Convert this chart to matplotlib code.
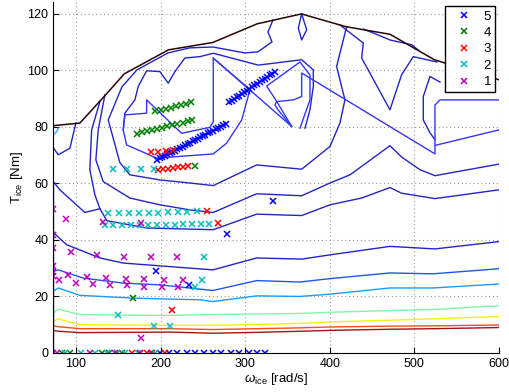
import matplotlib
matplotlib.use("Agg")
import matplotlib.pyplot as plt

plt.rcParams["font.family"] = ["Liberation Sans", "DejaVu Sans"]
plt.rcParams["mathtext.fontset"] = "custom"
plt.rcParams["mathtext.rm"] = "Liberation Sans"
plt.rcParams["mathtext.it"] = "Liberation Sans:italic"

# -- Max torque envelope ------------------------------------------------------
env_w = [73.3, 104.7, 136.1, 157.1, 209.4, 261.8, 314.2, 366.5, 418.9, 471.2, 523.6, 600]
env_t = [80.4, 81.3, 91.6, 98.7, 107.2, 109.8, 116.4, 119.9, 115.4, 112.7, 103.7, 96.6]

# -- Lower contour levels (roughly horizontal) --------------------------------
grid_w = [73.3, 79.1, 104.7, 157.1, 209.4, 261.8, 314.2, 366.5, 400.2, 471.2, 523.6, 600]
darkred_t = [8.0, 7.7, 7.2, 7.3, 7.4, 7.0, 7.3, 7.7, 8.0, 8.4, 8.6, 9.0]
orange_t = [9.6, 9.3, 8.6, 8.6, 8.6, 8.3, 8.6, 8.9, 9.2, 9.5, 9.6, 9.9]
yellow_t = [11.2, 12.1, 10.0, 9.9, 9.8, 9.8, 10.1, 10.5, 11.0, 11.6, 12.1, 12.9]
green_t = [14.1, 15.5, 13.6, 13.4, 13.3, 13.6, 13.8, 14.0, 14.4, 15.0, 15.4, 16.7]

lblue_w = [73.3, 79.1, 104.7, 167.7, 246.6, 261.9, 313.6, 364.8, 400.2, 471.1, 522.0, 600]
lblue_t = [21.8, 23.0, 20.4, 19.4, 18.8, 18.2, 20.2, 20.0, 20.8, 23.0, 23.0, 24.4]

mblue_w = [73.3, 79.1, 108.6, 155.9, 199.3, 261.9, 313.6, 364.8, 400.2, 471.1, 522.0, 600]
mblue_t = [28.8, 29.4, 26.5, 24.7, 24.1, 22.1, 25.6, 25.1, 26.3, 28.3, 28.0, 29.8]

blue1_w = [73.3, 89.0, 128.4, 155.9, 261.9, 313.6, 366.8, 400.2, 471.1, 524.3, 600]
blue1_t = [42.6, 38.3, 33.6, 31.8, 29.4, 33.6, 33.2, 34.7, 37.7, 36.8, 39.4]

# -- Upper contour levels (blue) ----------------------------------------------
lineA_w = [128.4, 136.6, 183.6, 262.3, 313.6, 366.8, 400.2, 437.7, 471.1, 484.9, 524.3, 600]
lineA_t = [51.0, 46.8, 44.2, 43.6, 49.1, 48.6, 52.4, 54.8, 58.5, 56.5, 54.6, 57.7]

lineP_w = [128.4, 118.6, 116.5, 122.5, 128.4, 110.6, 81.1, 73.3]
lineP_t = [88.9, 78.9, 64.8, 55.9, 51.0, 49.7, 57.7, 60.6]

lineB_w = [134.3, 126.4, 123.6, 132.3, 163.8, 199.3, 234.7, 262.3, 313.6, 366.8, 400.2,
           423.9, 471.1, 484.9, 506.6, 524.3, 600]
lineB_t = [91.3, 78.9, 68.3, 60.6, 54.8, 52.4, 50.6, 49.7, 56.3, 55.6, 60.1,
           63.0, 73.3, 69.3, 64.8, 62.7, 66.8]

ringC_w = [419.9, 408.1, 417.9, 412.0, 400.2, 366.8, 313.6, 262.3, 234.7, 199.3, 163.8, 152.0,
           138.2, 154.4, 172.1, 208.7, 234.7, 261.9, 299.8, 315.2, 331.7, 327.0, 332.9]
ringC_t = [115.4, 101.3, 89.5, 81.3, 73.0, 65.0, 66.5, 59.2, 60.1, 61.2, 63.0, 67.3,
           82.4, 94.1, 100.1, 106.1, 107.9, 108.2, 106.1, 106.5, 110.0, 113.5, 117.8]

lineS_w = [370.7, 376.6, 380.5, 380.5, 366.8, 315.5, 262.3, 246.6, 228.8, 217.0, 209.1, 199.3,
           183.6, 173.6, 169.7, 157.9, 155.9]
lineS_t = [79.5, 86.0, 94.2, 100.1, 103.7, 101.8, 106.0, 104.8, 104.3, 99.5, 95.4, 99.5,
           99.8, 94.2, 89.5, 84.8, 78.9]

heart_w = [262.3, 262.3, 258.4, 224.9, 183.6, 183.6, 157.9, 155.9, 159.9, 195.4, 262.3,
           278.1, 295.9, 305.7, 264.4]
heart_t = [104.3, 81.8, 79.8, 77.7, 89.5, 84.8, 84.2, 78.9, 73.6, 68.9, 70.4,
           74.2, 82.4, 93.1, 103.7]

diag_w = [262.3, 355.0]
diag_t = [104.3, 80.1]

diamond_w = [355.0, 337.2, 325.4, 364.8, 376.6, 376.6, 364.8]
diamond_t = [80.1, 89.0, 94.4, 102.9, 98.3, 89.5, 79.5]

inner_w = [355.0, 338.8, 335.2, 337.2, 356.9, 366.8, 366.8, 524.3, 524.3, 600]
inner_t = [80.1, 86.0, 87.7, 88.9, 89.5, 90.7, 99.0, 70.4, 73.4, 78.9]

step_w = [524.3, 524.3, 530.2, 600]
step_t = [73.4, 87.7, 89.5, 89.5]

peak_w = [366.8, 372.7, 366.8, 362.8, 366.8]
peak_t = [119.9, 114.3, 110.7, 114.9, 119.9]

vline_w = [412.0, 439.6, 437.7, 471.1, 484.9, 498.7, 526.7]
vline_t = [116.0, 109.6, 104.3, 86.0, 98.4, 104.8, 102.9]

under_w = [440.0, 449.5, 471.1, 496.8, 505.0]
under_t = [114.5, 113.4, 110.7, 109.0, 107.0]

right_w = [530.2, 518.4, 510.5, 510.5, 518.4, 524.3]
right_t = [95.8, 97.8, 90.7, 82.4, 77.9, 75.4]

corner1_w = [73.3, 77.2, 79.1]
corner1_t = [77.1, 78.3, 79.5]
corner2_w = [73.3, 79.1, 92.9, 100.0]
corner2_t = [72.6, 70.1, 72.4, 81.3]

edge_w = [73.3, 73.3]
edge_t = [0.0, 60.6]

# -- Operating points ---------------------------------------------------------
p5_w = [196, 199, 202, 205, 208, 211, 214, 217, 220, 223, 226, 229, 232, 235, 238, 241,
        244, 247, 250, 253, 256, 259, 262, 265, 268, 271, 274, 277,
        281, 284, 287, 290, 293, 296, 299, 302, 305, 308, 311, 314, 317, 320, 323, 326,
        329, 332, 335,
        333.2, 278.1, 194.6, 233.9,
        189, 199, 210, 220, 231, 241, 251, 262, 272, 283, 293, 304, 314, 324]
p5_t = [68.4, 68.9, 69.3, 69.8, 70.3, 70.7, 71.2, 71.6, 72.1, 72.6, 73.0, 73.5, 74.0, 74.4,
        74.9, 75.4, 75.8, 76.3, 76.8, 77.2, 77.7, 78.2, 78.6, 79.1, 79.6, 80.0, 80.5, 80.9,
        88.6, 89.2, 89.8, 90.4, 91.0, 91.6, 92.2, 92.8, 93.4, 94.0, 94.6, 95.2, 95.8, 96.4,
        97.0, 97.6, 98.2, 98.8, 99.4,
        53.8, 42.2, 29.1, 24.1,
        0, 0, 0, 0, 0, 0, 0, 0, 0, 0, 0, 0, 0, 0]

p4_w = [194, 200, 206, 212, 218, 224, 230, 236,
        172, 178, 184, 190, 196, 202, 208, 214, 220, 226, 232, 237,
        240.7, 167.0,
        83.1, 92.9, 130.3, 139.4, 153.9]
p4_t = [85.4, 85.9, 86.3, 86.8, 87.2, 87.7, 88.1, 88.6,
        77.5, 78.0, 78.4, 78.9, 79.3, 79.7, 80.2, 80.6, 81.1, 81.5, 82.0, 82.4,
        66.3, 19.4,
        0, 0, 0, 0, 0]

p3_w = [188.3, 197.3, 206.0, 214.3,
        197, 203, 209, 215, 221, 227, 233,
        255.2, 268.2, 213.8,
        148.1, 165.8, 175.6, 183.5, 189.5, 205.2]
p3_t = [70.9, 71.2, 71.5, 71.8,
        64.8, 65.0, 65.2, 65.4, 65.6, 65.8, 66.0,
        50.3, 45.9, 15.1,
        0, 0, 0, 0, 0, 0]

p2_w = [144.1, 159.9, 176.5, 192.5,
        138.2, 150.8, 163.0, 174.8, 186.3, 197.3, 209.1, 220.9, 231.6, 243.4,
        134.3, 144.1, 154.0, 164.7, 175.6, 185.5, 196.1, 206.4, 217.0, 226.8, 237.5, 247.7, 257.6,
        251.3, 248.6, 240.7, 150.0, 192.5, 211.1,
        87.0, 105.5, 122.4, 136.2, 148.8, 157.9, 173.6, 193.3]
p2_t = [65.1, 65.1, 65.1, 65.1,
        49.5, 49.5, 49.5, 49.5, 49.5, 49.6, 49.8, 49.9, 50.0, 50.2,
        45.1, 45.1, 45.1, 45.1, 45.1, 45.1, 45.2, 45.4, 45.4, 45.5, 45.5, 45.6, 45.7,
        33.8, 25.9, 23.5, 13.5, 9.4, 9.4,
        0, 0, 0, 0, 0, 0, 0, 0]

p1_w = [73.3, 88.2, 132.3, 176.5, 73.3, 73.3, 93.7, 125.2, 156.7, 188.3, 219.7,
        73.3, 73.3, 73.3, 80.3, 90.2, 100.0, 113.4, 120.4, 135.5, 140.2, 158.7, 160.6,
        180.7, 180.7, 204.0, 201.3, 226.1, 220.9, 176.5,
        73.3, 77.2, 116.6, 146.2, 175.7]
p1_t = [51.0, 47.5, 46.3, 45.9, 41.8, 37.3, 35.7, 34.7, 34.1, 33.9, 33.9,
        30.6, 28.8, 27.1, 25.7, 27.7, 24.7, 26.9, 24.4, 26.5, 24.1, 26.3, 23.9,
        26.1, 23.5, 25.9, 23.5, 25.9, 23.5, 5.3,
        0, 0, 0, 0, 0]

DARK_BLUE = "#2424c4"
BRIGHT_BLUE = "#3535fa"

fig = plt.figure(figsize=(5.1, 3.92), dpi=100)
ax = fig.add_axes([0.1045, 0.0995, 0.874, 0.896])

# lower levels
ax.plot(grid_w, darkred_t, color="#a31414", lw=1.0)
ax.plot(grid_w, orange_t, color="#ff4a1a", lw=1.0)
ax.plot(grid_w, yellow_t, color="#f2f20a", lw=1.0)
ax.plot(grid_w, green_t, color="#86f5a6", lw=1.0)
ax.plot(lblue_w, lblue_t, color="#1a9cff", lw=1.0)
ax.plot(mblue_w, mblue_t, color="#1f55f5", lw=1.0)
ax.plot(blue1_w, blue1_t, color=DARK_BLUE, lw=1.0)

# upper levels
for w, t in [(lineA_w, lineA_t), (lineP_w, lineP_t), (lineB_w, lineB_t),
             (ringC_w, ringC_t), (lineS_w, lineS_t), (vline_w, vline_t),
             (under_w, under_t), (right_w, right_t), (corner2_w, corner2_t),
             (peak_w, peak_t), (edge_w, edge_t)]:
    ax.plot(w, t, color=DARK_BLUE, lw=1.0)
for w, t in [(heart_w, heart_t), (diag_w, diag_t), (diamond_w, diamond_t),
             (inner_w, inner_t), (step_w, step_t)]:
    ax.plot(w, t, color=BRIGHT_BLUE, lw=1.0)
ax.plot(corner1_w, corner1_t, color="#3aa8ff", lw=1.0)

# envelope
ax.plot(env_w, env_t, color="#2a0505", lw=1.1)

# operating points
mk = dict(marker="x", linestyle="none", markersize=4.3, markeredgewidth=1.1)
ax.plot(p5_w, p5_t, color=(0, 0, 1), label="5", **mk)
ax.plot(p4_w, p4_t, color=(0, 0.5, 0), label="4", **mk)
ax.plot(p3_w, p3_t, color=(1, 0, 0), label="3", **mk)
ax.plot(p2_w, p2_t, color=(0, 0.75, 0.75), label="2", **mk)
ax.plot(p1_w, p1_t, color=(0.75, 0, 0.75), label="1", **mk)

ax.set_xlim(73.3, 600)
ax.set_ylim(0, 124.2)
ax.set_xticks([100, 200, 300, 400, 500, 600])
ax.set_yticks([0, 20, 40, 60, 80, 100, 120])
ax.tick_params(direction="in", length=4, labelsize=9, width=0.8)
ax.spines[["top", "right"]].set_visible(False)
ax.grid(True, color="#9a9a9a", linestyle=(0, (1, 2.5)), linewidth=0.8)
ax.set_axisbelow(True)

ax.set_xlabel(r"$\omega_{\rm ice}$ [rad/s]", fontsize=9.5, labelpad=1)
ax.set_ylabel(r"T$_{\rm ice}$ [Nm]", fontsize=9.5, labelpad=2)

leg = ax.legend(loc="upper right", bbox_to_anchor=(0.991, 0.987), borderaxespad=0,
                fancybox=False, edgecolor="black", framealpha=1, fontsize=9.5,
                handlelength=2.2, handletextpad=0.4, labelspacing=0.32,
                borderpad=0.3, markerscale=0.85)
leg.get_frame().set_linewidth(1.0)

plt.savefig("out.png", dpi=100)
plt.close(fig)
